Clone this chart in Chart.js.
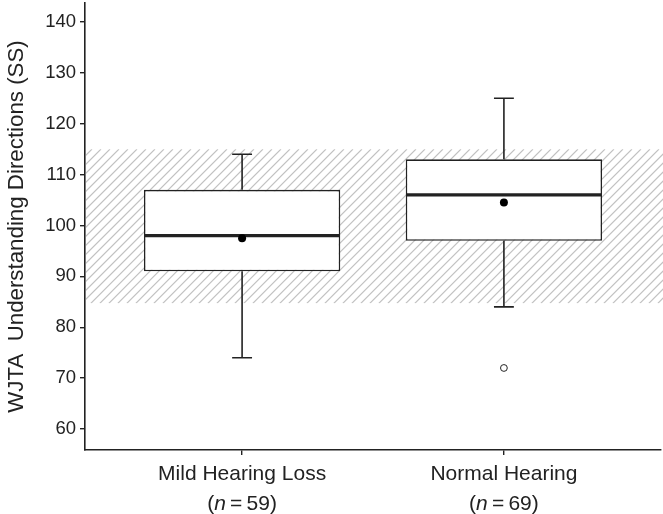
<!DOCTYPE html>
<html>
<head>
<meta charset="utf-8">
<script src="https://cdn.jsdelivr.net/npm/chart.js@4.4.0/dist/chart.umd.min.js"></script>
<style>
  html, body { margin: 0; padding: 0; background: #ffffff; }
  #wrap { width: 663px; height: 514px; }
</style>
</head>
<body>
<div id="wrap"><canvas id="c" width="663" height="514"></canvas></div>
<script>
// ---- data ----
const categories   = ['Mild Hearing Loss', 'Normal Hearing'];
const sampleSizes  = [59, 69];
const whiskerLow   = [74, 84];
const q1           = [91, 97];
const medians      = [98, 106];
const q3           = [107, 113];
const whiskerHigh  = [114, 125];
const means        = [97.5, 104.5];
const outliers     = [[], [72]];
const refBand      = [84.7, 115];
const yTicks       = [60, 70, 80, 90, 100, 110, 120, 130, 140];
const yTitle       = 'WJTA  Understanding Directions (SS)';

const INK = '#222222';
const FONT = "'Liberation Sans', Arial, Helvetica, sans-serif";

const positions = categories.map((_, i) => i + 1);

const boxData = positions.map((p, i) => ({ x: p, y: [q1[i], q3[i]] }));
const meanData = positions.map((p, i) => ({ x: p, y: means[i] }));
const outlierData = [];
outliers.forEach((arr, i) => arr.forEach(v => outlierData.push({ x: positions[i], y: v })));

const boxPlugin = {
  id: 'boxparts',
  beforeDatasetsDraw(chart) {
    const { ctx, chartArea: a, scales: { x, y } } = chart;
    // hatched reference band
    const top = y.getPixelForValue(refBand[1]);
    const bot = y.getPixelForValue(refBand[0]);
    ctx.save();
    ctx.beginPath();
    ctx.rect(a.left + 1, top, a.right + 10 - a.left, bot - top);
    ctx.clip();
    ctx.strokeStyle = '#c2c2c2';
    ctx.lineWidth = 1.3;
    const h = bot - top;
    const spacing = 9;
    ctx.beginPath();
    for (let x0 = a.left - h - 20; x0 < a.right + 20; x0 += spacing) {
      ctx.moveTo(x0, bot);
      ctx.lineTo(x0 + h, top);
    }
    ctx.stroke();
    ctx.restore();

    // whiskers and caps
    ctx.save();
    ctx.strokeStyle = INK;
    ctx.lineWidth = 1.6;
    const capHalf = 0.038;
    positions.forEach((p, i) => {
      const px = x.getPixelForValue(p);
      const cl = x.getPixelForValue(p - capHalf);
      const cr = x.getPixelForValue(p + capHalf);
      const yh = y.getPixelForValue(whiskerHigh[i]);
      const yl = y.getPixelForValue(whiskerLow[i]);
      const y3 = y.getPixelForValue(q3[i]);
      const y1 = y.getPixelForValue(q1[i]);
      ctx.beginPath();
      ctx.moveTo(px, y3); ctx.lineTo(px, yh);
      ctx.moveTo(px, y1); ctx.lineTo(px, yl);
      ctx.moveTo(cl, yh); ctx.lineTo(cr, yh);
      ctx.moveTo(cl, yl); ctx.lineTo(cr, yl);
      ctx.stroke();
    });
    ctx.restore();
  },
  afterDatasetDraw(chart, args) {
    if (args.index !== 0) return;
    const { ctx, scales: { y } } = chart;
    const meta = chart.getDatasetMeta(0);
    ctx.save();
    ctx.strokeStyle = INK;
    ctx.lineWidth = 3.2;
    meta.data.forEach((bar, i) => {
      const half = bar.width / 2;
      const ym = y.getPixelForValue(medians[i]);
      ctx.beginPath();
      ctx.moveTo(bar.x - half + 0.5, ym);
      ctx.lineTo(bar.x + half - 0.5, ym);
      ctx.stroke();
    });
    ctx.restore();
  },
  afterDraw(chart) {
    const { ctx, chartArea: a, scales: { x } } = chart;
    ctx.save();
    ctx.fillStyle = INK;
    ctx.textBaseline = 'alphabetic';
    const size = 21;
    const normal = size + 'px ' + FONT;
    const italic = 'italic ' + size + 'px ' + FONT;
    positions.forEach((p, i) => {
      const parts = [
        ['(', normal],
        ['n', italic],
        ['\u2009=\u2009' + sampleSizes[i] + ')', normal]
      ];
      let total = 0;
      parts.forEach(([t, f]) => { ctx.font = f; total += ctx.measureText(t).width; });
      let cx = x.getPixelForValue(p) - total / 2;
      const by = a.bottom + 60;
      parts.forEach(([t, f]) => {
        ctx.font = f;
        ctx.fillText(t, cx, by);
        cx += ctx.measureText(t).width;
      });
    });
    ctx.restore();
  }
};

new Chart(document.getElementById('c'), {
  type: 'bar',
  data: {
    datasets: [
      {
        type: 'bar',
        data: boxData,
        backgroundColor: '#ffffff',
        borderColor: INK,
        borderWidth: 1.6,
        borderSkipped: false,
        categoryPercentage: 1,
        barPercentage: 0.75,
        order: 2
      },
      {
        type: 'scatter',
        data: meanData,
        pointRadius: 4,
        pointBackgroundColor: '#000000',
        pointBorderColor: '#000000',
        pointBorderWidth: 0,
        order: 1
      },
      {
        type: 'scatter',
        data: outlierData,
        pointRadius: 3.4,
        pointBackgroundColor: '#ffffff',
        pointBorderColor: INK,
        pointBorderWidth: 1,
        order: 0
      }
    ]
  },
  options: {
    responsive: false,
    animation: false,
    events: [],
    layout: { autoPadding: false, padding: { left: 0, right: 2, top: 3, bottom: 0 } },
    plugins: { legend: { display: false }, tooltip: { enabled: false } },
    scales: {
      x: {
        type: 'linear',
        min: 0.4,
        max: 2.6,
        offset: false,
        afterBuildTicks(scale) { scale.ticks = positions.map(v => ({ value: v })); },
        afterFit(scale) { scale.height = 64; scale.paddingLeft = 0; scale.paddingRight = 0; },
        ticks: {
          autoSkip: false,
          maxRotation: 0,
          padding: 7,
          color: INK,
          font: { family: FONT, size: 21 },
          callback: (v) => categories[Math.round(v) - 1] || ''
        },
        grid: { display: true, drawOnChartArea: false, drawTicks: true, tickLength: 5, color: INK, lineWidth: 1.4, offset: false },
        border: { display: true, color: INK, width: 1.6 }
      },
      y: {
        type: 'linear',
        min: 55.88,
        max: 143.72,
        afterBuildTicks(scale) { scale.ticks = yTicks.map(v => ({ value: v })); },
        afterFit(scale) { scale.width = 85; scale.paddingTop = 0; scale.paddingBottom = 0; },
        ticks: {
          padding: 4,
          color: INK,
          font: { family: FONT, size: 18.5 }
        },
        grid: { display: true, drawOnChartArea: false, drawTicks: true, tickLength: 5, color: INK, lineWidth: 1.4 },
        border: { display: true, color: INK, width: 1.6 },
        title: {
          display: true,
          text: yTitle,
          color: INK,
          font: { family: FONT, size: 22.3 },
          padding: { top: 3, bottom: 2 }
        }
      }
    }
  },
  plugins: [boxPlugin]
});
</script>
</body>
</html>
